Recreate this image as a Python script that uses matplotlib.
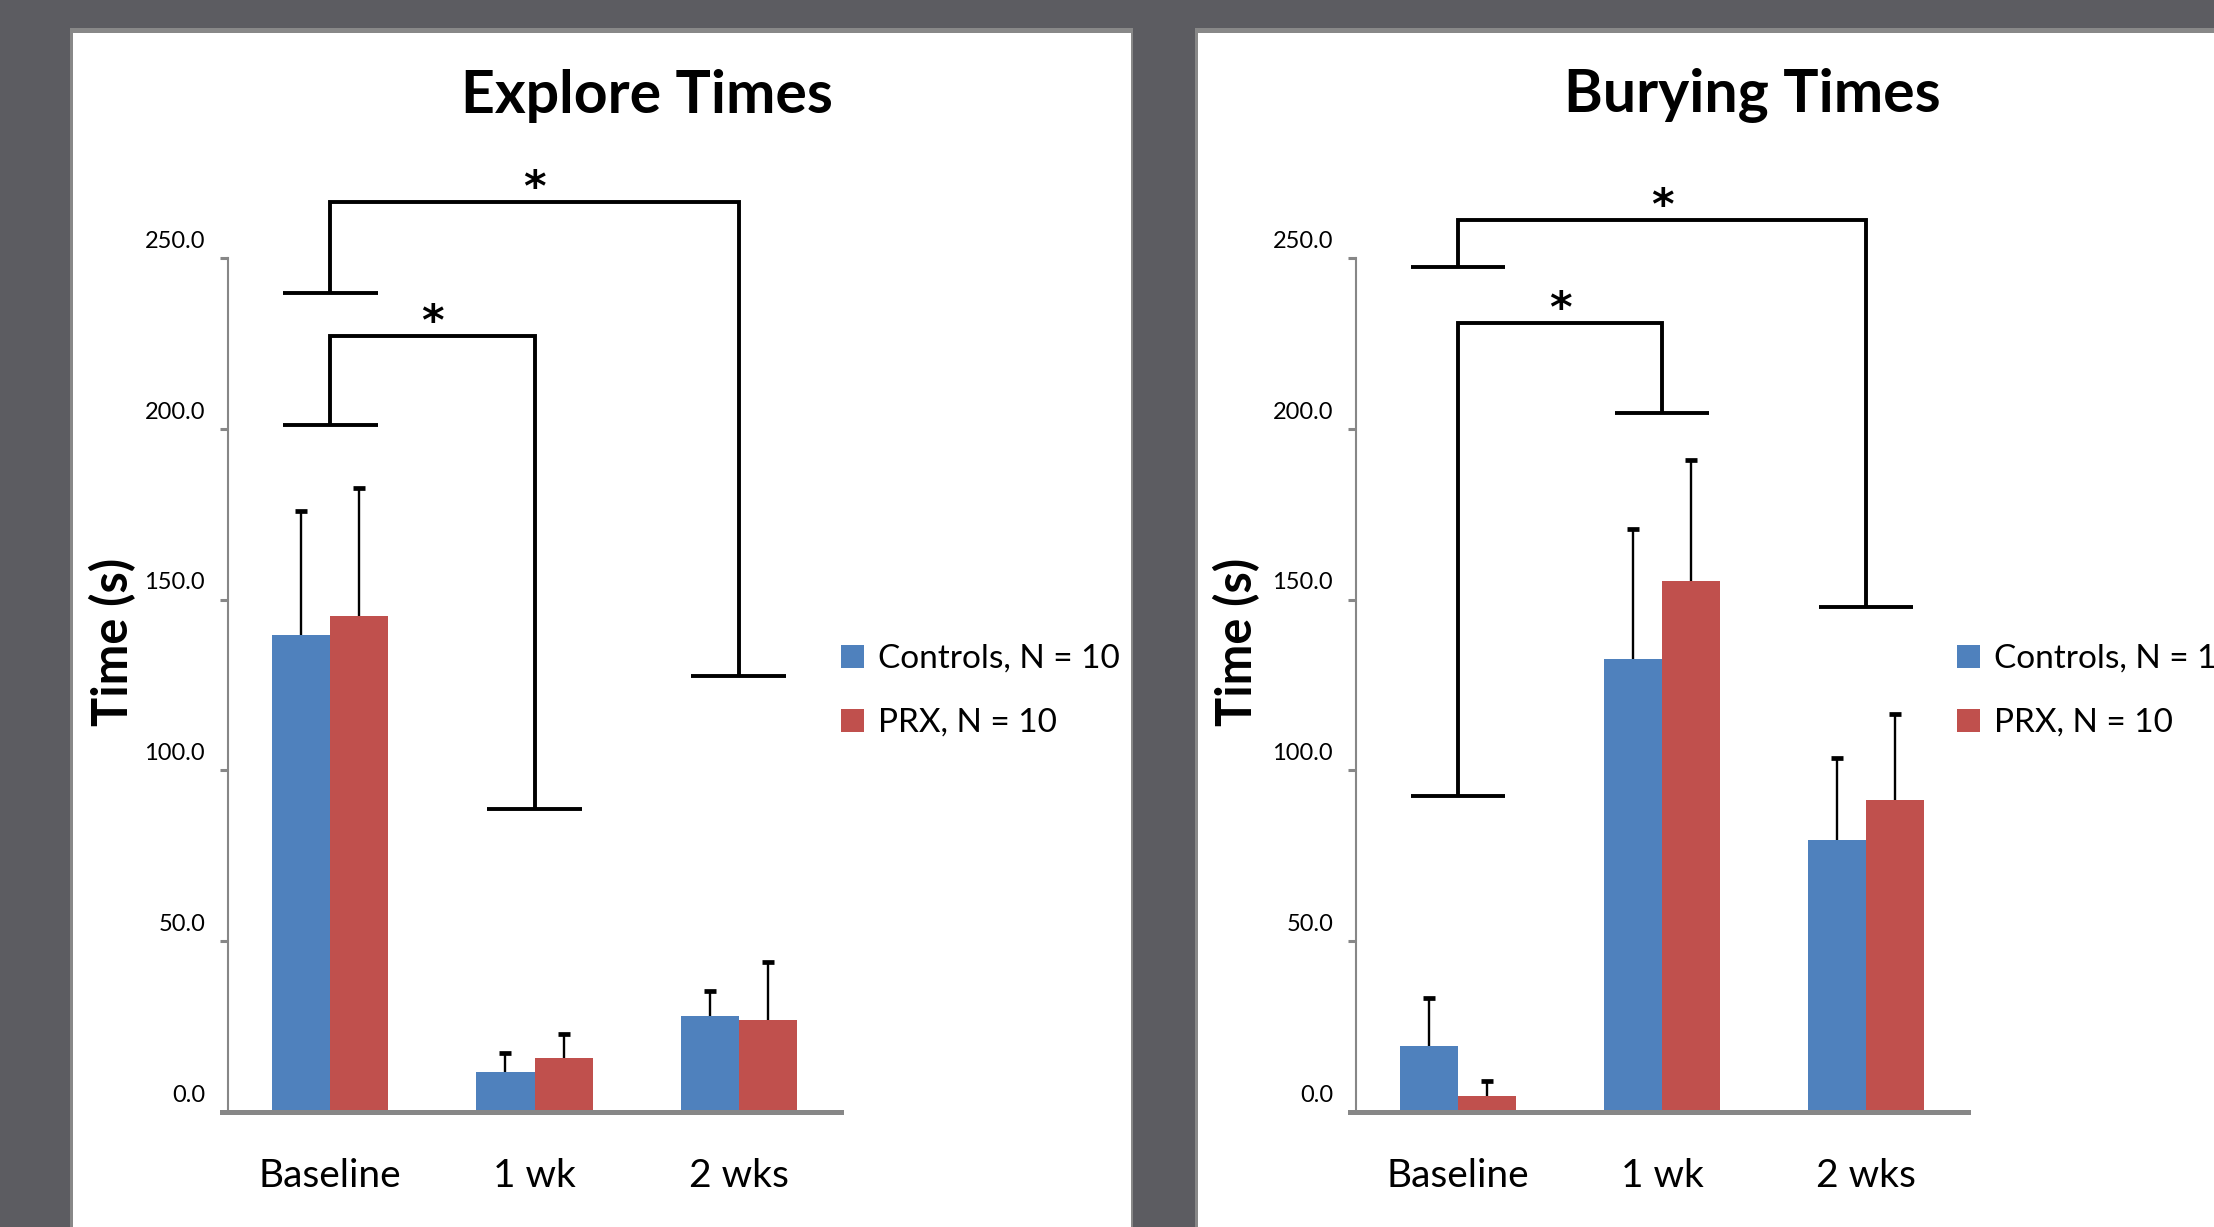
import matplotlib.pyplot as plt
import numpy as np
from matplotlib.patches import Rectangle

plt.rcParams['font.family'] = ['Lato', 'DejaVu Sans']

# --- données ---
categories = ['Baseline', '1 wk', '2 wks']
labels = ['Controls, N = 10', 'PRX, N = 10']

explore_ctrl = [139.5, 11.6, 28.1]
explore_ctrl_err = [36.4, 5.7, 7.4]
explore_prx = [145.1, 15.8, 26.9]
explore_prx_err = [37.5, 7.1, 17.0]

bury_ctrl = [19.3, 132.6, 79.7]
bury_ctrl_err = [14.1, 38.2, 24.0]
bury_prx = [4.6, 155.5, 91.4]
bury_prx_err = [4.4, 35.3, 25.2]

# (x gauche, x droite, y du haut, y pied gauche, y pied droit)
explore_brackets = [(0, 2, 266.4, 239.8, 127.7), (0, 1, 227.2, 201.0, 88.6)]
bury_brackets = [(0, 2, 261.1, 247.5, 147.9), (0, 1, 231.0, 92.5, 204.5)]

yticks = [0, 50, 100, 150, 200, 250]

BLUE = '#4F81BD'
RED = '#C0504D'
AXGRAY = '#878787'

W, H = 2214, 1227
fig = plt.figure(figsize=(W / 100, H / 100), dpi=100, facecolor='#5c5c61')


def rect_px(x0, y0, x1, y1, color):
    fig.add_artist(Rectangle((x0 / W, 1 - y1 / H), (x1 - x0) / W, (y1 - y0) / H,
                             transform=fig.transFigure, facecolor=color,
                             edgecolor='none', zorder=-2))


# panneaux blancs de la diapo
rect_px(70, 28, 1133, 1240, '#888888')
rect_px(73, 33, 1131, 1240, 'white')
rect_px(1195, 28, 2230, 1240, '#888888')
rect_px(1198, 33, 2230, 1240, 'white')


def draw_panel(ax, ctrl, ctrl_err, prx, prx_err, brackets, legend_x):
    x = np.arange(len(categories))
    w = 0.285
    ax.bar(x - w / 2, ctrl, w, color=BLUE, label=labels[0], zorder=2)
    ax.bar(x + w / 2, prx, w, color=RED, label=labels[1], zorder=2)
    for xs, vals, errs in [(x - w / 2, ctrl, ctrl_err), (x + w / 2, prx, prx_err)]:
        vals = np.array(vals)
        tops = vals + np.array(errs)
        ax.vlines(xs, vals, tops, color='black', lw=1.7, zorder=3)
        ax.plot(xs, tops, ls='none', marker='_', ms=8.5, mew=3.4,
                color='black', zorder=3)

    # crochets de significativité
    hw = 0.232
    for xl, xr, top, yl, yr in brackets:
        kw = dict(color='black', lw=2.8, clip_on=False, zorder=4,
                  solid_capstyle='butt', solid_joinstyle='miter')
        ax.plot([xl, xl, xr, xr], [yl, top, top, yr], **kw)
        ax.plot([xl - hw, xl + hw], [yl, yl], **kw)
        ax.plot([xr - hw, xr + hw], [yr, yr], **kw)
        ax.annotate('*', xy=((xl + xr) / 2, top), xytext=(0, 9.5),
                    textcoords='offset points', ha='center', va='center',
                    fontsize=31, family='DejaVu Sans', fontweight='bold',
                    annotation_clip=False)

    ax.set_xlim(-0.5, 2.5)
    ax.set_ylim(0, 250)
    ax.set_facecolor('none')
    for s in ['top', 'right']:
        ax.spines[s].set_visible(False)
    ax.spines['left'].set_color(AXGRAY)
    ax.spines['left'].set_linewidth(1.5)
    ax.spines['bottom'].set_color(AXGRAY)
    ax.spines['bottom'].set_linewidth(3.6)
    ax.spines['bottom'].set_bounds(-0.53, 2.5)

    ax.set_xticks(x, categories)
    ax.tick_params(axis='x', length=0, pad=33, labelsize=28)
    ax.set_yticks(yticks)
    ax.tick_params(axis='y', length=6, width=2.2, color=AXGRAY, labelleft=False)
    for v in yticks:
        ax.annotate(f'{v:.1f}', xy=(0, v), xycoords=('axes fraction', 'data'),
                    xytext=(-16.5, 12), textcoords='offset points',
                    ha='right', va='center', fontsize=17, annotation_clip=False)

    ax.legend(loc='center left', bbox_to_anchor=(legend_x, 0.493), borderaxespad=0,
              borderpad=0, frameon=False, handlelength=0.7, handleheight=0.7,
              handletextpad=0.4, labelspacing=1.02, fontsize=24)


axL = fig.add_axes([228 / W, 1 - 1112 / H, 613 / W, 854 / H])
axR = fig.add_axes([1356 / W, 1 - 1112 / H, 612 / W, 854 / H])

draw_panel(axL, explore_ctrl, explore_ctrl_err, explore_prx, explore_prx_err,
           explore_brackets, 1.0)
draw_panel(axR, bury_ctrl, bury_ctrl_err, bury_prx, bury_prx_err,
           bury_brackets, 0.982)

fig.text(0.292, 0.922, 'Explore Times', ha='center', va='center',
         fontsize=42.5, fontweight='bold')
fig.text(0.7915, 0.922, 'Burying Times', ha='center', va='center',
         fontsize=42.5, fontweight='bold')
fig.text(0.051, 0.477, 'Time (s)', rotation=90, ha='center', va='center',
         fontsize=35, fontweight='bold')
fig.text(0.5587, 0.477, 'Time (s)', rotation=90, ha='center', va='center',
         fontsize=35, fontweight='bold')

fig.savefig('out.png', dpi=100, facecolor=fig.get_facecolor())
